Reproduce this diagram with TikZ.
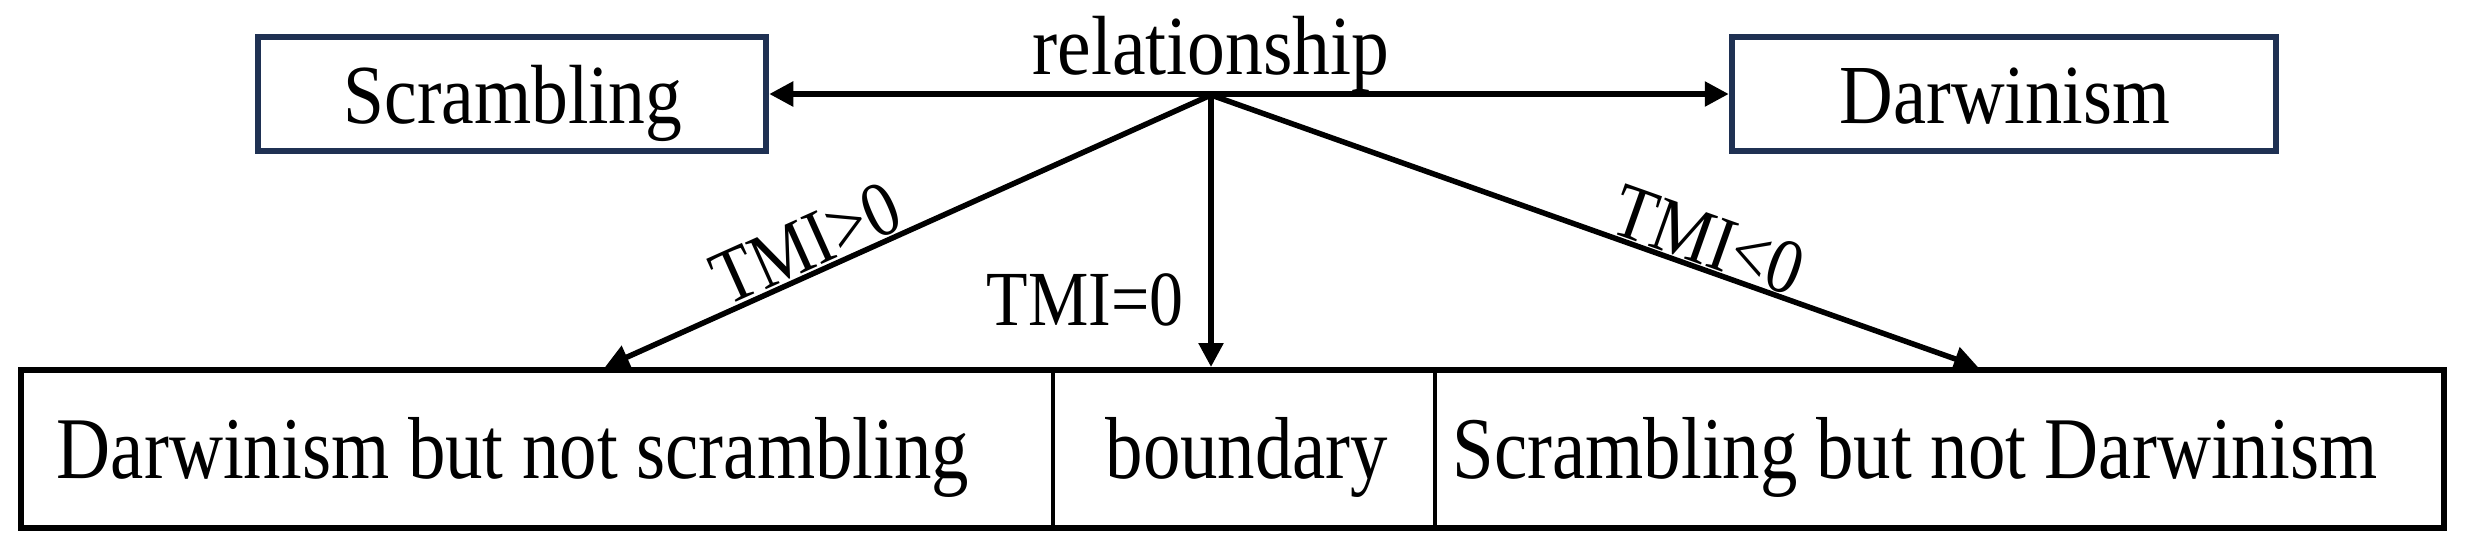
\documentclass[tikz,border=0pt]{standalone}
\usepackage{fontspec}
\setmainfont{Liberation Serif}
\usetikzlibrary{arrows.meta}
\definecolor{boxnavy}{RGB}{31,49,83}
\newcommand{\cmpr}[2]{\scalebox{#1}[1]{#2}}
\begin{document}
\begin{tikzpicture}[x=1pt,y=-1pt,
  topbox/.style={draw=boxnavy, line width=6.5pt, minimum height=114pt, inner sep=0pt},
  cell/.style={minimum height=158pt, inner sep=0pt},
  toptxt/.style={font=\fontsize{84}{94}\selectfont, inner sep=0pt, anchor=base},
  bottxt/.style={font=\fontsize{88}{98}\selectfont, inner sep=0pt, anchor=base},
  lbltxt/.style={font=\fontsize{78}{88}\selectfont, inner sep=0pt, anchor=base},
  conn/.style={line width=5.5pt, -{Triangle[length=24pt,width=24pt]}},
  dconn/.style={line width=5.5pt, {Triangle[length=24pt,width=24pt]}-{Triangle[length=24pt,width=24pt]}}
]
\useasboundingbox (0,0) rectangle (2465,558);

% top boxes
\node[topbox, minimum width=508pt] (scr) at (512,94) {};
\node[topbox, minimum width=544pt] (dar) at (2004,94) {};
\node[toptxt] (scrt) at (513,123) {\cmpr{0.875}{Scrambling}};
\node[toptxt] (dart) at (2005,123) {\cmpr{0.885}{Darwinism}};
\node[toptxt] (rel) at (1211,74) {\cmpr{0.9}{relationship}};

% bottom cells
\node[cell, minimum width=1032pt] (c1) at (537,449) {};
\node[cell, minimum width=382pt] (c2) at (1244,449) {};
\node[cell, minimum width=1009pt] (c3) at (1939.5,449) {};
\draw[line width=6pt] (c1.north west) rectangle (c3.south east);
\draw[line width=3.5pt] (c1.north east) -- (c1.south east);
\draw[line width=3.5pt] (c2.north east) -- (c2.south east);
\node[bottxt] (t1) at (513,478) {\cmpr{0.85}{Darwinism but not scrambling}};
\node[bottxt] (t2) at (1247,478) {\cmpr{0.85}{boundary}};
\node[bottxt] (t3) at (1915,478) {\cmpr{0.85}{Scrambling but not Darwinism}};

% connectors
\coordinate (apex) at (1211,95);
\coordinate (tL) at (605,367);
\coordinate (tM) at (1211,367);
\coordinate (tR) at (1978,367);
\draw[dconn] (scr.east) -- (dar.west);
\draw[conn] (apex) -- (tL);
\draw[conn] (apex) -- (tM);
\draw[conn] (apex) -- (tR);

% labels
\node[lbltxt, rotate=24.1] (l1) at (816.6,266.8) {\cmpr{0.87}{TMI>0}};
\node[lbltxt] (l2) at (1085,325) {\cmpr{0.87}{TMI=0}};
\node[lbltxt, rotate=-19.5] (l3) at (1699.7,264) {\cmpr{0.87}{TMI<0}};
\end{tikzpicture}
\end{document}
